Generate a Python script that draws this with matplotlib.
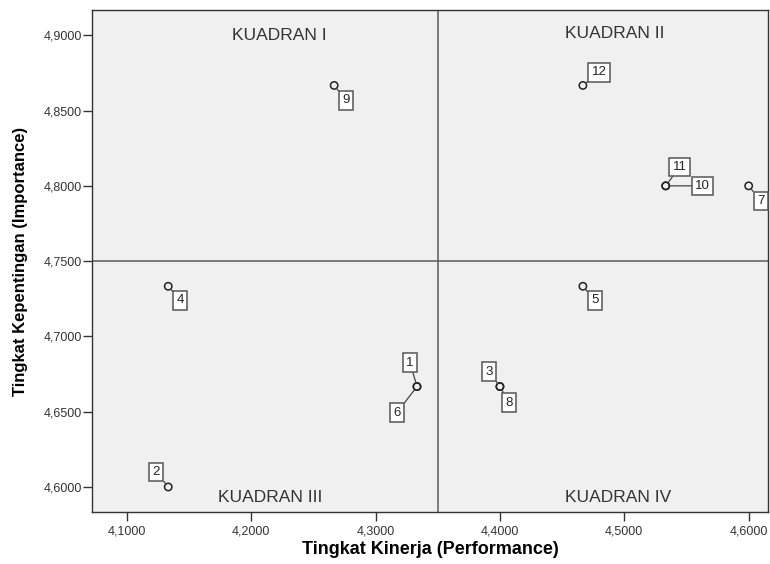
import matplotlib.pyplot as plt
from matplotlib.ticker import FuncFormatter

# attribute numbers and mean scores (performance vs importance)
atribut = [1, 2, 3, 4, 5, 6, 7, 8, 9, 10, 11, 12]
kinerja = [4.3333, 4.1333, 4.4000, 4.1333, 4.4667, 4.3333,
           4.6000, 4.4000, 4.2667, 4.5333, 4.5333, 4.4667]
kepentingan = [4.6667, 4.6000, 4.6667, 4.7333, 4.7333, 4.6667,
               4.8000, 4.6667, 4.8667, 4.8000, 4.8000, 4.8667]

x_tengah = 4.35
y_tengah = 4.75

kuadran = ['KUADRAN I', 'KUADRAN II', 'KUADRAN III', 'KUADRAN IV']
kuadran_x = [4.2224, 4.4920, 4.2152, 4.4952]
kuadran_y = [4.9000, 4.9013, 4.5933, 4.5933]

# label box offsets in pixels (dx, dy)
offset = {1: (-7, 24), 2: (-12, 15), 3: (-11, 15), 4: (12, -14),
          5: (12, -14), 6: (-20, -26), 7: (12, -15), 8: (9, -16),
          9: (12, -15), 10: (37, 0), 11: (14, 19), 12: (16, 13)}

plt.rcParams['font.family'] = ['Liberation Sans', 'DejaVu Sans']

fig = plt.figure(figsize=(7.7, 5.64), dpi=100)
ax = fig.add_axes([0.1195, 0.092, 0.878, 0.890])
ax.set_facecolor('#f0f0f0')

ax.axvline(x_tengah, color='#5a5a5a', lw=1.1, zorder=1)
ax.axhline(y_tengah, color='#5a5a5a', lw=1.1, zorder=1)

ax.scatter(kinerja, kepentingan, s=28, facecolors='none',
           edgecolors='#222222', linewidths=1.1, zorder=3)

for n, x, y in zip(atribut, kinerja, kepentingan):
    dx, dy = offset[n]
    ax.annotate(str(n), (x, y), xytext=(dx, dy), textcoords='offset pixels',
                ha='center', va='center', fontsize=9.5, color='#222222',
                bbox=dict(boxstyle='square,pad=0.25', fc='white',
                          ec='#555555', lw=1.1),
                arrowprops=dict(arrowstyle='-', color='#444444', lw=0.9,
                                shrinkA=0, shrinkB=3),
                zorder=4)

for teks, x, y in zip(kuadran, kuadran_x, kuadran_y):
    ax.text(x, y, teks, ha='center', va='center', fontsize=12.5,
            color='#333333')

ax.set_xlim(4.072, 4.6156)
ax.set_ylim(4.5833, 4.9167)
ax.set_xticks([4.1, 4.2, 4.3, 4.4, 4.5, 4.6])
ax.set_yticks([4.6, 4.65, 4.7, 4.75, 4.8, 4.85, 4.9])
fmt = FuncFormatter(lambda v, p: f'{v:.4f}'.replace('.', ','))
ax.xaxis.set_major_formatter(fmt)
ax.yaxis.set_major_formatter(fmt)
ax.tick_params(direction='out', length=6.5, width=1, color='#333333',
               labelsize=9, labelcolor='#333333')
ax.tick_params(axis='y', pad=1)
ax.tick_params(axis='x', pad=3)

for s in ax.spines.values():
    s.set_color('#333333')
    s.set_linewidth(1)

ax.set_xlabel('Tingkat Kinerja (Performance)', fontsize=13,
              fontweight='bold', labelpad=3)
ax.set_ylabel('Tingkat Kepentingan (Importance)', fontsize=12,
              fontweight='bold', labelpad=11)

fig.savefig('out.png', dpi=100)
